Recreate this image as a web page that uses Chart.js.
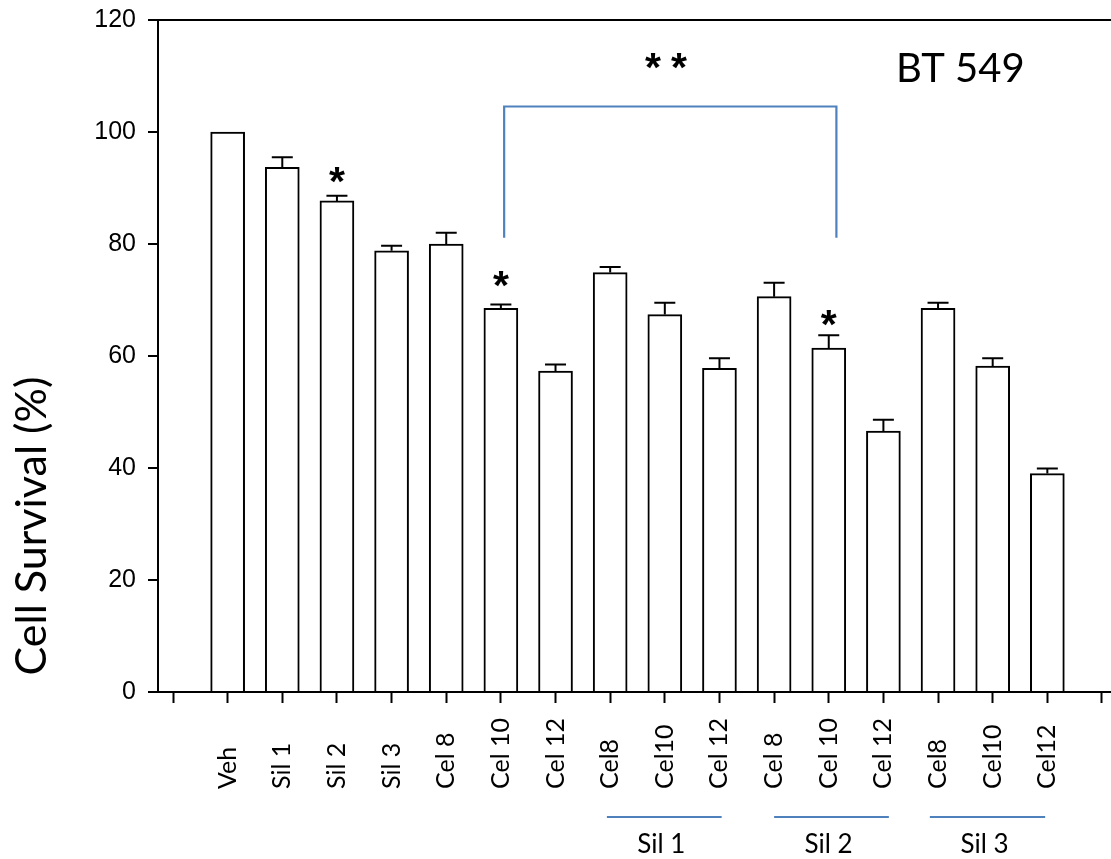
<!DOCTYPE html>
<html>
<head>
<meta charset="utf-8">
<script src="https://cdn.jsdelivr.net/npm/chart.js@4/dist/chart.umd.min.js"></script>
<style>
  html, body { margin: 0; padding: 0; background: #fff; }
  canvas { display: block; }
</style>
</head>
<body>
<canvas id="c" width="1111" height="859"></canvas>
<script>
// ---- data ----
const categories = ['Veh', 'Sil 1', 'Sil 2', 'Sil 3', 'Cel 8', 'Cel 10', 'Cel 12',
                    'Cel8', 'Cel10', 'Cel 12', 'Cel 8', 'Cel 10', 'Cel 12', 'Cel8', 'Cel10', 'Cel12'];
const survival = [100, 93.7, 87.7, 78.8, 80.0, 68.5, 57.3, 74.9, 67.4, 57.8, 70.6, 61.4, 46.6, 68.5, 58.2, 39.0];
const errors   = [0, 1.8, 0.9, 0.9, 2.0, 0.7, 1.2, 1.0, 2.1, 1.8, 2.5, 2.3, 2.0, 1.0, 1.4, 0.9];
const yTicks = [0, 20, 40, 60, 80, 100, 120];

// significance markers (category position, value level)
const starPos = [3, 6, 12];
const starLevel = [92.3, 73.8, 66.8];
const doubleStarPos = 9.02;
const doubleStarLevel = 112.7;
// bracket (category positions / value levels)
const bracketFrom = 6.06, bracketTo = 12.14, bracketTop = 104.55, bracketBottom = 81.1;

// group annotations under the axis
const groupLabels = ['Sil 1', 'Sil 2', 'Sil 3'];
const groupFrom = [7.94, 11.0, 13.85];
const groupTo = [10.04, 13.1, 15.96];

const panelLabel = 'BT 549';
const yTitle = 'Cell Survival (%)';

// ---- style ----
const BLUE = '#4F81BD';
const FONT = 'Lato, "Open Sans", sans-serif';

const points = categories.map((c, i) => ({ x: i + 1, y: survival[i] }));

function drawCentered(ctx, text, cx, cy) {
  const m = ctx.measureText(text);
  const L = m.actualBoundingBoxLeft, R = m.actualBoundingBoxRight;
  const A = m.actualBoundingBoxAscent, D = m.actualBoundingBoxDescent;
  ctx.textAlign = 'left';
  ctx.textBaseline = 'alphabetic';
  ctx.fillText(text, cx - (R - L) / 2, cy - (D - A) / 2);
}

function setStarFont(ctx, targetWidth) {
  const fam = 'bold {s}px "Liberation Sans", Arial, sans-serif';
  ctx.font = fam.replace('{s}', '100');
  const m = ctx.measureText('*');
  const w = m.actualBoundingBoxLeft + m.actualBoundingBoxRight;
  const size = 100 * targetWidth / w;
  ctx.font = fam.replace('{s}', size.toFixed(1));
}

const annotations = {
  id: 'annotations',
  afterDraw(chart) {
    const ctx = chart.ctx;
    const xs = chart.scales.x, ys = chart.scales.y;
    ctx.save();

    // error bars
    ctx.strokeStyle = '#000';
    ctx.lineWidth = 2;
    survival.forEach((v, i) => {
      if (!errors[i]) return;
      const x = xs.getPixelForValue(i + 1);
      const y0 = ys.getPixelForValue(v);
      const y1 = ys.getPixelForValue(v + errors[i]);
      ctx.beginPath();
      ctx.moveTo(x, y0);
      ctx.lineTo(x, y1);
      ctx.moveTo(x - 10.5, y1);
      ctx.lineTo(x + 10.5, y1);
      ctx.stroke();
    });

    // stars
    ctx.fillStyle = '#000';
    setStarFont(ctx, 16);
    starPos.forEach((p, i) => {
      drawCentered(ctx, '*', xs.getPixelForValue(p), ys.getPixelForValue(starLevel[i]));
    });
    const dx = xs.getPixelForValue(doubleStarPos), dy = ys.getPixelForValue(doubleStarLevel);
    drawCentered(ctx, '*', dx - 13, dy);
    drawCentered(ctx, '*', dx + 13, dy);

    // bracket
    ctx.strokeStyle = BLUE;
    ctx.lineWidth = 2.2;
    const bx0 = xs.getPixelForValue(bracketFrom), bx1 = xs.getPixelForValue(bracketTo);
    const byT = ys.getPixelForValue(bracketTop), byB = ys.getPixelForValue(bracketBottom);
    ctx.beginPath();
    ctx.moveTo(bx0, byB);
    ctx.lineTo(bx0, byT);
    ctx.lineTo(bx1, byT);
    ctx.lineTo(bx1, byB);
    ctx.stroke();

    // x category labels (rotated, start aligned)
    ctx.fillStyle = '#000';
    ctx.font = '25px ' + FONT;
    categories.forEach((c, i) => {
      const x = xs.getPixelForValue(i + 1);
      ctx.save();
      ctx.translate(x + 8, 789);
      ctx.rotate(-Math.PI / 2);
      ctx.textAlign = 'left';
      ctx.textBaseline = 'alphabetic';
      ctx.fillText(c, 0, 0);
      ctx.restore();
    });

    // group lines & labels
    ctx.strokeStyle = BLUE;
    ctx.lineWidth = 2;
    ctx.font = '26px ' + FONT;
    groupLabels.forEach((g, i) => {
      const a = xs.getPixelForValue(groupFrom[i]), b = xs.getPixelForValue(groupTo[i]);
      ctx.beginPath();
      ctx.moveTo(a, 817);
      ctx.lineTo(b, 817);
      ctx.stroke();
      ctx.textAlign = 'center';
      ctx.textBaseline = 'alphabetic';
      ctx.fillText(g, (a + b) / 2 - 3, 853);
    });

    // y title
    ctx.save();
    ctx.font = '43px ' + FONT;
    ctx.translate(46, 526);
    ctx.rotate(-Math.PI / 2);
    ctx.textAlign = 'center';
    ctx.textBaseline = 'alphabetic';
    ctx.fillText(yTitle, 0, 0);
    ctx.restore();

    // panel label
    ctx.font = '40px ' + FONT;
    ctx.textAlign = 'left';
    ctx.textBaseline = 'alphabetic';
    ctx.fillText(panelLabel, 896, 82);

    ctx.restore();
  }
};

new Chart(document.getElementById('c'), {
  type: 'bar',
  data: {
    datasets: [{
      data: points,
      backgroundColor: '#ffffff',
      borderColor: '#000000',
      borderWidth: 2,
      barThickness: 34
    }]
  },
  options: {
    responsive: false,
    devicePixelRatio: 1,
    animation: false,
    layout: { padding: { top: 20, right: 0, left: 0, bottom: 0 } },
    plugins: { legend: { display: false }, tooltip: { enabled: false }, title: { display: false } },
    scales: {
      x: {
        type: 'linear',
        offset: false,
        min: -0.2745,
        max: 17.165,
        afterFit(scale) { scale.height = 859 - 692; },
        border: { display: true, color: '#000', width: 2 },
        grid: { display: true, offset: false, drawOnChartArea: false, drawTicks: true, tickLength: 11, tickColor: '#000', tickWidth: 2 },
        ticks: {
          stepSize: 1,
          includeBounds: false,
          autoSkip: false,
          maxRotation: 0,
          minRotation: 0,
          callback: () => ''
        }
      },
      y: {
        min: 0,
        max: 120,
        afterFit(scale) { scale.width = 158; scale.paddingTop = 0; scale.paddingBottom = 0; },
        afterBuildTicks(scale) { scale.ticks = yTicks.map(v => ({ value: v })); },
        border: { display: true, color: '#000', width: 2 },
        grid: {
          display: true,
          drawOnChartArea: true,
          color: (c) => (c.tick && c.tick.value === 120 ? '#000' : 'rgba(0,0,0,0)'),
          lineWidth: 2,
          tickLength: 10,
          tickColor: '#000',
          tickWidth: 2
        },
        ticks: {
          color: '#000',
          padding: 12,
          font: { family: '"Liberation Sans", Arial, sans-serif', size: 25, lineHeight: 0.6 }
        }
      }
    }
  },
  plugins: [annotations]
});
</script>
</body>
</html>
